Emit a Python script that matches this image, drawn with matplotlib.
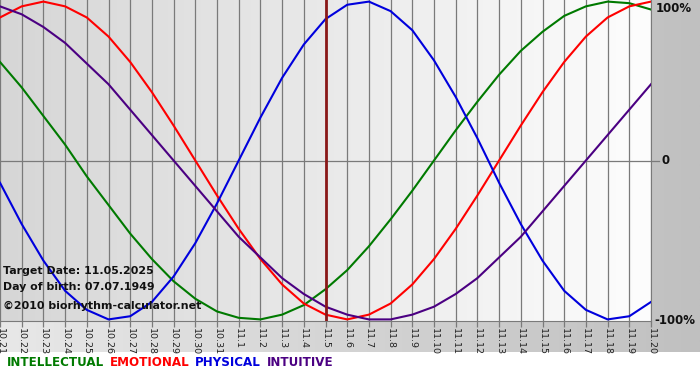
#!/usr/bin/env python3
# -*- coding: utf-8 -*-

"""Biorhythm chart, 10.21 - 11.20, target date 11.05.2025"""

import numpy as np
import matplotlib
matplotlib.use("Agg")
import matplotlib.pyplot as plt
from matplotlib.colors import LinearSegmentedColormap

# Donnees (valeurs -1 .. 1 pour chaque jour)
days = ["10.21", "10.22", "10.23", "10.24", "10.25", "10.26", "10.27", "10.28",
        "10.29", "10.30", "10.31", "11.1", "11.2", "11.3", "11.4", "11.5",
        "11.6", "11.7", "11.8", "11.9", "11.10", "11.11", "11.12", "11.13",
        "11.14", "11.15", "11.16", "11.17", "11.18", "11.19", "11.20"]

intellectual = [0.62, 0.46, 0.28, 0.10, -0.10, -0.28, -0.46, -0.62, -0.76, -0.87,
                -0.95, -0.99, -1.00, -0.97, -0.91, -0.81, -0.69, -0.54, -0.37, -0.19,
                0.00, 0.19, 0.37, 0.54, 0.69, 0.81, 0.91, 0.97, 1.00, 0.99, 0.95]
emotional = [0.90, 0.97, 1.00, 0.97, 0.90, 0.78, 0.62, 0.43, 0.22, 0.00,
             -0.22, -0.43, -0.62, -0.78, -0.90, -0.97, -1.00, -0.97, -0.90, -0.78,
             -0.62, -0.43, -0.22, 0.00, 0.22, 0.43, 0.62, 0.78, 0.90, 0.97, 1.00]
physical = [-0.14, -0.40, -0.63, -0.82, -0.94, -1.00, -0.98, -0.89, -0.73, -0.52,
            -0.27, 0.00, 0.27, 0.52, 0.73, 0.89, 0.98, 1.00, 0.94, 0.82,
            0.63, 0.40, 0.14, -0.14, -0.40, -0.63, -0.82, -0.94, -1.00, -0.98, -0.89]
intuitive = [0.97, 0.92, 0.84, 0.74, 0.61, 0.48, 0.32, 0.16, 0.00, -0.16,
             -0.32, -0.48, -0.61, -0.74, -0.84, -0.92, -0.97, -1.00, -1.00, -0.97,
             -0.92, -0.84, -0.74, -0.61, -0.48, -0.32, -0.16, 0.00, 0.16, 0.32, 0.48]

target_day = "11.5"
info_lines = ["Target Date: 11.05.2025", "Day of birth: 07.07.1949",
              "\u00a92010 biorhythm-calculator.net"]

series = [("INTELLECTUAL", intellectual, "#007a00"),
          ("EMOTIONAL", emotional, "#ff0000"),
          ("PHYSICAL", physical, "#0000dd"),
          ("INTUITIVE", intuitive, "#4b0082")]

W, H = 700, 380
fig = plt.figure(figsize=(W / 100, H / 100), dpi=100)
fig.patch.set_facecolor("white")

# Fond : bande grise degradee (gauche clair -> droite gris)
bg = fig.add_axes([0, 0, 1, 1])
bg.set_axis_off()
band = LinearSegmentedColormap.from_list("band", ["#e8e8e8", "#c0c0c0"])
bg.imshow(np.linspace(0, 1, 256)[None, :], cmap=band, aspect="auto",
          extent=[0, W, H - 352, H], zorder=0)
bg.set_xlim(0, W)
bg.set_ylim(0, H)

# Zone de trace
left, right, top, bottom = 0, 651, 0, 321
ax = fig.add_axes([left / W, 1 - bottom / H, (right - left) / W, (bottom - top) / H])
x = np.arange(len(days))
ax.set_xlim(x[0], x[-1])
ax.set_ylim(-1.01, 1.01)

plot_bg = LinearSegmentedColormap.from_list("plotbg", ["#d6d6d6", "#fdfdfd"])
ax.imshow(np.linspace(0, 1, 256)[None, :], cmap=plot_bg, aspect="auto",
          extent=[x[0], x[-1], -1.01, 1.01], zorder=0)

for xi in x:
    ax.axvline(xi, color="#7a7a7a", lw=0.9, zorder=1)
ax.axhline(0, xmax=1.012, color="#7a7a7a", lw=0.9, zorder=1, clip_on=False)

for name, vals, col in series:
    ax.plot(x, vals, color=col, lw=1.5, zorder=3, solid_joinstyle="round")

ax.axvline(days.index(target_day), color="#8a1818", lw=2.0, zorder=4)

for sp in ["top", "left"]:
    ax.spines[sp].set_visible(False)
ax.spines["right"].set_color("#7a7a7a")
ax.spines["bottom"].set_color("#7a7a7a")

ax.set_yticks([])
ax.set_xticks(x)
ax.set_xticklabels(days, rotation=270, fontsize=6.8, color="#222222")
ax.tick_params(axis="x", length=4, width=0.9, color="#7a7a7a", pad=1)

# Etiquettes de droite (position en pixels de la figure)
for ypix, xpix, lab in [(8, 656, "100%"), (161, 661, "0"), (321, 654, "-100%")]:
    fig.text(xpix / W, 1 - ypix / H, lab, fontsize=8.5, fontweight="bold",
             color="#111111", ha="left", va="center")

# Textes d'info
for ypix, txt in zip([271, 287, 306], info_lines):
    fig.text(3 / W, 1 - ypix / H, txt, fontsize=7.9, fontweight="bold",
             color="#111111", va="center")

# Legende, chaque mot a la suite du precedent
last = None
for name, vals, col in series:
    if last is None:
        last = fig.text(7 / W, 1 - 362 / H, name, fontsize=8.6, fontweight="bold",
                        color=col, va="center")
    else:
        last = bg.annotate(name, xy=(1, 0.5), xycoords=last, xytext=(4, 0),
                           textcoords="offset points", fontsize=8.6,
                           fontweight="bold", color=col, va="center")

fig.savefig("out.png", dpi=100)
